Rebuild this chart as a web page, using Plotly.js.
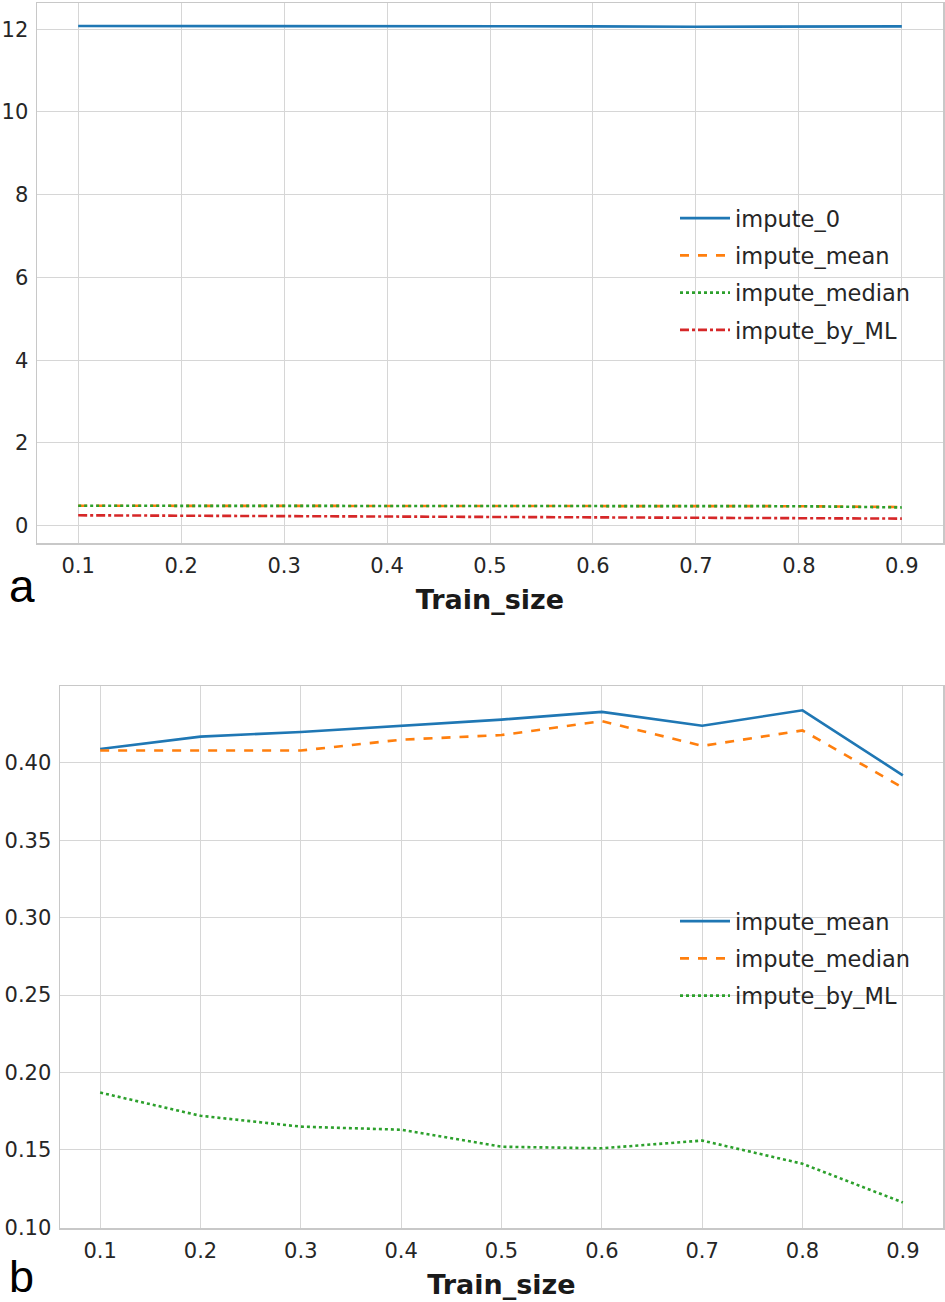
<!DOCTYPE html>
<html><head><meta charset="utf-8">
<script src="https://cdn.plot.ly/plotly-3.0.1.min.js"></script>
<style>html,body{margin:0;padding:0;background:#fff}#chart{width:945px;height:1302px}</style>
</head><body><div id="chart"></div>
<script>
const trainSize = [0.1,0.2,0.3,0.4,0.5,0.6,0.7,0.8,0.9];
const xTicks = ['0.1','0.2','0.3','0.4','0.5','0.6','0.7','0.8','0.9'];

// Panel a
const aImpute0 =      [12.08,12.08,12.08,12.07,12.07,12.07,12.06,12.06,12.07];
const aImputeMean =   [0.48,0.48,0.48,0.48,0.48,0.48,0.48,0.47,0.45];
const aImputeMedian = [0.48,0.48,0.48,0.48,0.48,0.48,0.48,0.47,0.44];
const aImputeML =     [0.25,0.24,0.23,0.22,0.21,0.21,0.20,0.19,0.17];

// Panel b
const bImputeMean =   [0.409,0.417,0.420,0.424,0.428,0.433,0.424,0.434,0.392];
const bImputeMedian = [0.408,0.408,0.408,0.415,0.418,0.427,0.411,0.421,0.384];
const bImputeML =     [0.187,0.172,0.165,0.163,0.152,0.151,0.156,0.141,0.116];

const C = ['#1f77b4','#ff7f0e','#2ca02c','#d62728'];
const W = 2.6;
function tr(y, name, color, dash, xa, ya, leg, grp){
  return {x: trainSize, y: y, name: name, type:'scatter', mode:'lines',
    line:{color:color, width:W, dash:dash}, xaxis:xa, yaxis:ya, legend:leg, legendgroup:grp};
}
const data = [
  tr(aImpute0,'impute_0',C[0],'solid','x','y','legend','a0'),
  tr(aImputeMean,'impute_mean',C[1],'dash','x','y','legend','a1'),
  tr(aImputeMedian,'impute_median',C[2],'dot','x','y','legend','a2'),
  tr(aImputeML,'impute_by_ML',C[3],'dashdot','x','y','legend','a3'),
  tr(bImputeMean,'impute_mean',C[0],'solid','x2','y2','legend2','b0'),
  tr(bImputeMedian,'impute_median',C[1],'dash','x2','y2','legend2','b1'),
  tr(bImputeML,'impute_by_ML',C[2],'dot','x2','y2','legend2','b2')
];
const tickFont = {family:'DejaVu Sans', size:21, color:'#262626'};
const gridC = '#d6d6d6', lineC = '#c8c8c8';
function xax(domain, anchor){
  return {domain:domain, anchor:anchor, range:[0.06,0.94], tickvals:trainSize, ticktext:xTicks,
    showgrid:true, gridcolor:gridC, gridwidth:1, showline:true, linecolor:lineC, linewidth:1.5, mirror:true,
    zeroline:false, ticks:'', tickfont:tickFont, ticklabelstandoff:3,
    title:{text:'<b>Train_size</b>', font:{family:'DejaVu Sans', size:27, color:'#1a1a1a'}, standoff:13}};
}
function yax(domain, anchor, range, tv, tt){
  return {domain:domain, anchor:anchor, range:range, tickvals:tv, ticktext:tt,
    showgrid:true, gridcolor:gridC, gridwidth:1, showline:true, linecolor:lineC, linewidth:1.5, mirror:true,
    zeroline:false, ticks:'', tickfont:tickFont, ticklabelstandoff:3};
}
const legFont = {family:'DejaVu Sans', size:22.5, color:'#262626'};
const layout = {
  width:945, height:1302, margin:{l:0,r:0,t:0,b:0}, paper_bgcolor:'#fff', plot_bgcolor:'#fff',
  showlegend:true,
  xaxis: xax([37/945, 943/945],'y'),
  yaxis: yax([1-543/1302, 1-3/1302],'x',[-0.42,12.635],[0,2,4,6,8,10,12],['0','2','4','6','8','10','12']),
  xaxis2: xax([60/945, 943/945],'y2'),
  yaxis2: yax([1-1228/1302, 1-686/1302],'x2',[0.0995,0.4497],[0.10,0.15,0.20,0.25,0.30,0.35,0.40],['0.10','0.15','0.20','0.25','0.30','0.35','0.40']),
  legend:{x:675/945, y:1-197/1302, xanchor:'left', yanchor:'top', bgcolor:'rgba(0,0,0,0)', font:legFont,
    traceorder:'grouped', tracegroupgap:5, itemwidth:50},
  legend2:{x:675/945, y:1-900/1302, xanchor:'left', yanchor:'top', bgcolor:'rgba(0,0,0,0)', font:legFont,
    traceorder:'grouped', tracegroupgap:5, itemwidth:50},
  annotations:[
    {text:'a', xref:'paper', yref:'paper', x:7/945, y:1-586/1302, xanchor:'left', yanchor:'middle', showarrow:false,
      height:40, font:{family:'Liberation Sans', size:46, color:'#000'}},
    {text:'b', xref:'paper', yref:'paper', x:7/945, y:1-1276/1302, xanchor:'left', yanchor:'middle', showarrow:false,
      height:40, font:{family:'Liberation Sans', size:45, color:'#000'}}
  ]
};
Plotly.newPlot('chart', data, layout, {displayModeBar:false, staticPlot:true});
</script></body></html>
